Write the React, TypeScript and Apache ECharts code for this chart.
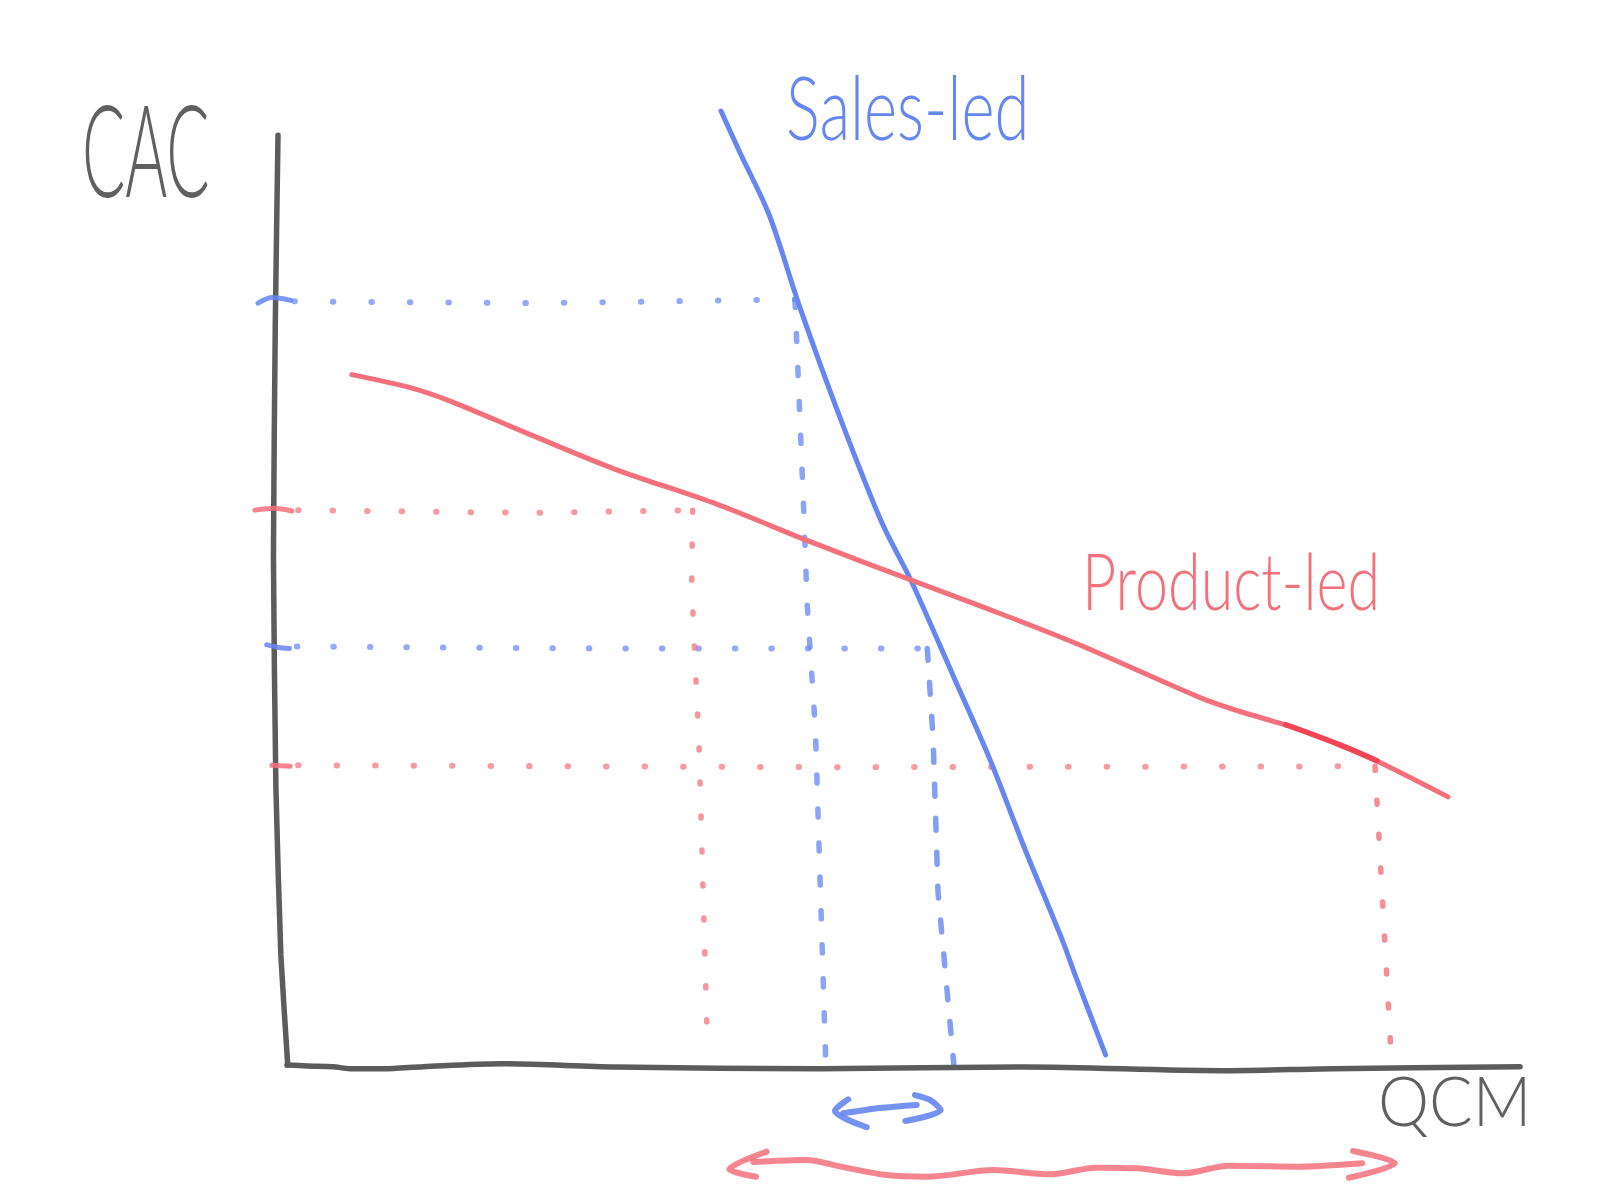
import React, { useEffect, useRef } from "react";
import * as echarts from "echarts";

// ---- data (chart units: x = QCM 0..100, y = CAC 0..100) ----
const salesLed: [number, number][] = [
  [35.2, 102.9], [36.78, 98.3], [39.11, 91.7], [41.61, 81.7], [44.93, 69.6],
  [48.26, 58.5], [50.58, 52.4], [54.08, 41.9], [56.99, 33.1], [59.9, 23.2],
  [62.81, 13.8], [64.06, 9.3], [66.39, 1.2],
];
const productLed: [number, number][] = [
  [5.26, 74.5], [9.99, 73.1], [13.33, 71.6], [19.98, 67.9], [26.63, 64.3],
  [34.95, 60.5], [42.43, 56.5], [50.75, 52.3], [56.58, 49.4], [64.06, 45.5],
  [74.05, 39.7], [77.29, 38.2], [81.35, 36.6], [85.4, 34.6], [88.65, 32.7],
  [94.16, 29.0],
];
const productLedOverdraw: [number, number][] = [
  [81.0, 36.8], [85.4, 34.6], [88.4, 32.9],
];
const yAxisStroke: [number, number][] = [
  [-0.73, 100.3], [-0.95, 80], [-1.1, 55], [-0.9, 30], [-0.5, 12], [0.06, 0.1],
];
const xAxisStroke: [number, number][] = [
  [0, 0.1], [1.6, 0], [3.73, -0.07], [5.1, -0.3], [7.8, -0.3], [11.05, -0.07],
  [17.27, 0.25], [26.6, -0.1], [43.27, -0.3], [59.9, -0.1], [75.7, -0.5],
  [84.8, -0.3], [100, -0.07],
];

// guide lines
const blueHighH: [number, number][] = [[0.6, 82.4], [20, 82.2], [41.2, 82.6]];
const blueHighV: [number, number][] = [[41.2, 82.6], [41.85, 61.8], [42.19, 49.7], [42.85, 36.4], [43.68, 1.0]];
const blueLowH: [number, number][] = [[0.8, 45.2], [25, 45.0], [51.93, 45.0]];
const blueLowV: [number, number][] = [[51.93, 45.0], [52.4, 35.3], [52.8, 18.7], [54.08, 0.2]];
const redHighH: [number, number][] = [[0.9, 59.9], [20, 59.6], [32.9, 59.9]];
const redHighV: [number, number][] = [[32.9, 59.9], [32.82, 51.8], [33.41, 34.8], [34.11, 1.6]];
const redLowH: [number, number][] = [[0.9, 32.4], [45, 32.2], [88.24, 32.3]];
const redLowV: [number, number][] = [[88.24, 32.3], [89.51, 2.1]];

// y-axis tick marks
const blueTicks: [number, number][][] = [
  [[-2.35, 82.2], [-1.2, 82.8], [0.3, 82.5]],
  [[-1.65, 45.4], [-0.7, 45.1], [0.2, 45.0]],
];
const redTicks: [number, number][][] = [
  [[-2.6, 59.9], [-1.0, 60.1], [0.4, 59.8]],
  [[-1.23, 32.4], [0.25, 32.3]],
];

// range arrows below the QCM axis
const blueArrow: [number, number][][] = [
  [[45.52, -3.59], [44.44, -4.82], [47.02, -6.6]],
  [[45.12, -5.1], [48.09, -4.53], [51.07, -4.2]],
  [[50.93, -3.13], [52.15, -3.66], [53.02, -4.74], [50.15, -5.93]],
];
const redArrow: [number, number][][] = [
  [[38.9, -9.23], [35.87, -11.13], [38.04, -11.93]],
  [[37.82, -10.34], [42.09, -10.13], [45.12, -10.9], [48.64, -11.75], [51.88, -11.93],
   [57.34, -11.21], [61.88, -11.67], [65.61, -10.96], [68.94, -11.02], [72.67, -11.56],
   [76.4, -10.74], [82.0, -10.85], [87.19, -10.48]],
  [[86.46, -9.16], [89.86, -10.48], [86.13, -12.04]],
];

const BLUE = "#6686f2";
const RED = "#f4707c";
const GRAY = "#5c5c5c";

function stroke(name: string, data: [number, number][], color: string, width: number, extra: any = {}) {
  return {
    type: "line",
    name,
    data,
    symbol: "none",
    silent: true,
    clip: false,
    smooth: extra.smooth ?? 0.3,
    lineStyle: {
      color,
      width,
      cap: "round",
      join: "round",
      opacity: extra.opacity ?? 1,
      type: extra.dash ?? "solid",
    },
    z: extra.z ?? 2,
  };
}

export default function App() {
  const ref = useRef<HTMLDivElement>(null);
  useEffect(() => {
    if (!ref.current) return;
    const chart = echarts.init(ref.current, undefined, { renderer: "svg" });
    const series: any[] = [
      stroke("y-axis", yAxisStroke, GRAY, 5.5, { z: 3, smooth: 0.15 }),
      stroke("x-axis", xAxisStroke, GRAY, 5.5, { z: 3 }),
      stroke("Sales-led", salesLed, BLUE, 5, { z: 4 }),
      stroke("Product-led", productLed, RED, 5, { z: 4 }),
      stroke("Product-led overdraw", productLedOverdraw, "#f23a4c", 5.5, { z: 5, opacity: 0.8 }),
      stroke("blue guide 1", blueHighH, BLUE, 6, { dash: [0.5, 38], opacity: 0.7, smooth: false }),
      stroke("blue guide 2", blueHighV, BLUE, 5.5, { dash: [8, 26], opacity: 0.75, smooth: false }),
      stroke("blue guide 3", blueLowH, BLUE, 6, { dash: [0.5, 36], opacity: 0.7, smooth: false }),
      stroke("blue guide 4", blueLowV, BLUE, 5.5, { dash: [12, 22], opacity: 0.8, smooth: false }),
      stroke("red guide 1", redHighH, RED, 6, { dash: [0.5, 34], opacity: 0.7, smooth: false }),
      stroke("red guide 2", redHighV, RED, 5.5, { dash: [2, 32], opacity: 0.75, smooth: false }),
      stroke("red guide 3", redLowH, RED, 6, { dash: [0.5, 38], opacity: 0.7, smooth: false }),
      stroke("red guide 4", redLowV, RED, 5.5, { dash: [4, 30], opacity: 0.8, smooth: false }),
      ...blueTicks.map((d, i) => stroke("blue tick " + i, d, BLUE, 5, { opacity: 0.85, z: 4 })),
      ...redTicks.map((d, i) => stroke("red tick " + i, d, RED, 5, { opacity: 0.85, z: 4 })),
      ...blueArrow.map((d, i) => stroke("blue arrow " + i, d, BLUE, 6, { opacity: 0.9 })),
      ...redArrow.map((d, i) => stroke("red arrow " + i, d, RED, 6, { opacity: 0.85 })),
    ];
    chart.setOption({
      animation: false,
      backgroundColor: "#ffffff",
      grid: { left: 225.35, right: 80, top: 91.6, bottom: 13.36 },
      xAxis: { type: "value", min: -5, max: 100, show: false },
      yAxis: { type: "value", min: -13, max: 105, show: false },
      graphic: [
        { type: "text", x: 82, y: 84, scaleX: 0.5, style: { text: "CAC", font: "300 128px Lato", fill: "#606060", align: "left", verticalAlign: "top" } },
        { type: "text", x: 1378, y: 1066, scaleX: 0.95, style: { text: "QCM", font: "300 68px Lato", fill: "#606060", align: "left", verticalAlign: "top" } },
        { type: "text", x: 786, y: 62, scaleX: 0.72, style: { text: "Sales-led", font: "300 88px Lato", fill: BLUE, align: "left", verticalAlign: "top" } },
        { type: "text", x: 1082, y: 541, scaleX: 0.76, style: { text: "Product-led", font: "300 78px Lato", fill: RED, align: "left", verticalAlign: "top" } },
      ],
      series,
    });
    return () => chart.dispose();
  }, []);
  return <div ref={ref} style={{ position: "absolute", left: 0, top: 0, width: 1600, height: 1200, background: "#fff" }} />;
}
